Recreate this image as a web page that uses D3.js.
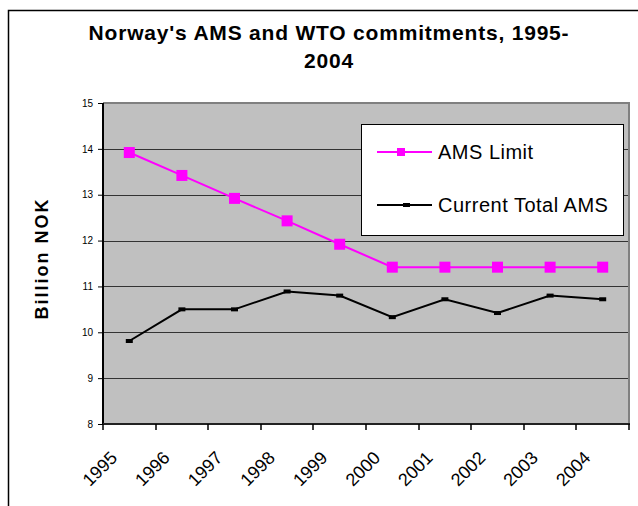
<!DOCTYPE html>
<html><head><meta charset="utf-8">
<script src="https://cdn.jsdelivr.net/npm/d3@7"></script>
<style>
html,body{margin:0;padding:0;background:#fff;}
text{font-family:"Liberation Sans",Arial,sans-serif;}
</style></head>
<body>
<script>
const years = ["1995","1996","1997","1998","1999","2000","2001","2002","2003","2004"];
const amsLimit = [13.92,13.42,12.92,12.43,11.92,11.42,11.42,11.42,11.42,11.42];
const currentAMS = [9.81,10.5,10.5,10.89,10.8,10.33,10.72,10.42,10.8,10.72];
const yTicks = [8,9,10,11,12,13,14,15];
const seriesNames = ["AMS Limit","Current Total AMS"];
const titleLines = ["Norway's AMS and WTO commitments, 1995-","2004"];
const yTitle = "Billion NOK";

const W=638,H=506;
const L=103,R=629,T=103,B=424;
const svg=d3.select("body").append("svg").attr("width",W).attr("height",H);

// outer frame
svg.append("rect").attr("x",8.5).attr("y",10.5).attr("width",700).attr("height",600)
  .attr("fill","#fff").attr("stroke","#000").attr("stroke-width",1.5);

const x=d3.scaleBand().domain(years).range([L,R]).padding(0);
const y=d3.scaleLinear().domain([8,15]).range([B,T]);
const cx=d=>x(d)+x.bandwidth()/2;

// plot area
svg.append("rect").attr("x",L).attr("y",T).attr("width",R-L).attr("height",B-T).attr("fill","#C0C0C0");
// gridlines
svg.append("g").selectAll("line").data(yTicks.filter(v=>v>8&&v<15)).join("line")
  .attr("x1",L).attr("x2",R).attr("y1",d=>Math.round(y(d))+0.5).attr("y2",d=>Math.round(y(d))+0.5)
  .attr("stroke","#333").attr("stroke-width",1);
// top & right border
svg.append("path").attr("d",`M${L},${T} H${R} V${B}`).attr("fill","none").attr("stroke","#808080").attr("stroke-width",2);

// y axis
const ya=svg.append("g").attr("transform",`translate(${L},0)`)
  .call(d3.axisLeft(y).tickValues(yTicks).tickSize(5).tickPadding(5).tickFormat(d3.format("d")));
ya.select(".domain").remove();
ya.selectAll("line").attr("stroke","#000");
ya.selectAll("text").attr("font-size",10).attr("fill","#000").style("font-family","Liberation Sans, Arial, sans-serif");
svg.append("line").attr("x1",L).attr("x2",L).attr("y1",T).attr("y2",B).attr("stroke","#000").attr("stroke-width",2);

// x axis
svg.append("line").attr("x1",L).attr("x2",R+1).attr("y1",B).attr("y2",B).attr("stroke","#222").attr("stroke-width",2);
const edges=years.map(d=>x(d)).concat([x(years[years.length-1])+x.bandwidth()]);
svg.append("g").selectAll("line").data(edges).join("line")
  .attr("x1",d=>Math.round(d)).attr("x2",d=>Math.round(d)).attr("y1",B).attr("y2",B+6)
  .attr("stroke","#000").attr("stroke-width",1.5);
svg.append("g").selectAll("text").data(years).join("text")
  .attr("transform",d=>`translate(${cx(d)-11},459) rotate(-45)`)
  .attr("text-anchor","end").attr("font-size",18).attr("fill","#000").text(d=>d);

// lines
const line=d3.line().x((d,i)=>cx(years[i])).y(d=>y(d));
svg.append("path").datum(amsLimit).attr("d",line).attr("fill","none").attr("stroke","#FF00FF").attr("stroke-width",2);
svg.append("g").selectAll("rect").data(amsLimit).join("rect")
  .attr("x",(d,i)=>cx(years[i])-5.5).attr("y",d=>y(d)-5.5).attr("width",11).attr("height",11).attr("fill","#FF00FF");
svg.append("path").datum(currentAMS).attr("d",line).attr("fill","none").attr("stroke","#000").attr("stroke-width",2);
svg.append("g").selectAll("rect").data(currentAMS).join("rect")
  .attr("x",(d,i)=>cx(years[i])-3.5).attr("y",d=>y(d)-2).attr("width",7).attr("height",4).attr("fill","#000");

// legend
const lg=svg.append("g");
lg.append("rect").attr("x",361.5).attr("y",124.5).attr("width",262).attr("height",111).attr("fill","#fff").attr("stroke","#000").attr("stroke-width",1);
lg.append("line").attr("x1",377).attr("x2",432).attr("y1",152).attr("y2",152).attr("stroke","#FF00FF").attr("stroke-width",2);
lg.append("rect").attr("x",397).attr("y",148).attr("width",8).attr("height",8).attr("fill","#FF00FF");
lg.append("line").attr("x1",377).attr("x2",432).attr("y1",205).attr("y2",205).attr("stroke","#000").attr("stroke-width",2);
lg.append("rect").attr("x",403).attr("y",203).attr("width",7).attr("height",4).attr("fill","#000");
lg.selectAll("text").data(seriesNames).join("text")
  .attr("x",438).attr("y",(d,i)=>i===0?159:212).attr("font-size",20).attr("letter-spacing",0.5).attr("fill","#000").text(d=>d);

// title
svg.append("g").selectAll("text").data(titleLines).join("text")
  .attr("x",329).attr("y",(d,i)=>i===0?40:68).attr("text-anchor","middle")
  .attr("font-size",21).attr("font-weight","bold").attr("letter-spacing",0.8).attr("fill","#000").text(d=>d);

// y title
svg.append("text").attr("transform",`translate(48,${(T+B)/2-5}) rotate(-90)`)
  .attr("text-anchor","middle").attr("font-size",18).attr("font-weight","bold").attr("letter-spacing",2).attr("fill","#000").text(yTitle);
</script>
</body></html>
